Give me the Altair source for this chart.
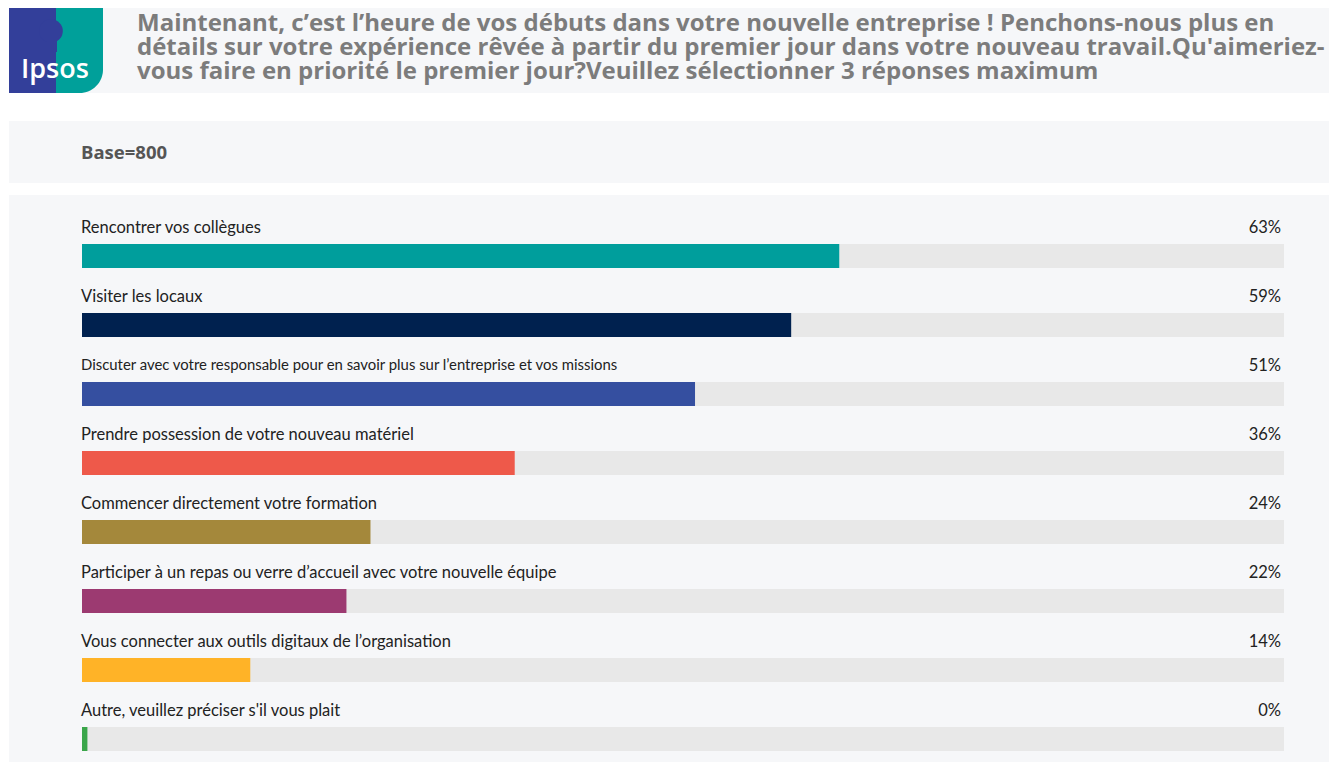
import altair as alt
import pandas as pd

categories = [
    "Rencontrer vos collègues",
    "Visiter les locaux",
    "Discuter avec votre responsable pour en savoir plus sur l’entreprise et vos missions",
    "Prendre possession de votre nouveau matériel",
    "Commencer directement votre formation",
    "Participer à un repas ou verre d’accueil avec votre nouvelle équipe",
    "Vous connecter aux outils digitaux de l’organisation",
    "Autre, veuillez préciser s'il vous plait",
]
values = [0.63, 0.59, 0.51, 0.36, 0.24, 0.22, 0.14, 0.00]
colors = ["#009e9c", "#00214f", "#354fa0", "#ee594a", "#a4883b", "#9c3a71", "#ffb327", "#3aa64a"]
title_lines = [
    "Maintenant, c’est l’heure de vos débuts dans votre nouvelle entreprise ! Penchons-nous plus en",
    "détails sur votre expérience rêvée à partir du premier jour dans votre nouveau travail.Qu'aimeriez-",
    "vous faire en priorité le premier jour?Veuillez sélectionner 3 réponses maximum",
]
base_text = "Base=800"

W, H = 1321, 754
PANEL = "#f6f7f9"

df = pd.DataFrame({"label": categories, "value": values, "color": colors})
df["pct"] = [f"{round(v*100)}%" for v in values]

xs = alt.Scale(domain=[0, 1], range=[74, 1276])
ys = alt.Scale(domain=categories, range=[236, 743], paddingInner=0.652, paddingOuter=0)

one = pd.DataFrame({"k": [0]})

def panel(y1, y2, x1=1, x2=W, color=PANEL):
    return alt.Chart(one).mark_rect(color=color).encode(
        x=alt.value(x1), x2=alt.value(x2), y=alt.value(y1), y2=alt.value(y2)
    )

header = panel(0, 85)
basep = panel(113, 175)
mainp = panel(187, H)
logo_blue = panel(0, 85, 1, 50, "#333f9a")
logo_teal = alt.Chart(one).mark_rect(color="#00a09a", cornerRadiusBottomRight=28).encode(
    x=alt.value(48), x2=alt.value(95), y=alt.value(0), y2=alt.value(85)
)
head = alt.Chart(one).mark_point(filled=True, color="#333f9a", opacity=1, size=560, shape="circle").encode(
    x=alt.value(43), y=alt.value(23)
)
neck = alt.Chart(one).mark_rect(color="#333f9a").encode(
    x=alt.value(39), x2=alt.value(49), y=alt.value(30), y2=alt.value(44)
)
logo_text = alt.Chart(one).mark_text(
    text="Ipsos", font="Open Sans", fontWeight=600, fontSize=27, color="white",
    align="left", baseline="alphabetic"
).encode(x=alt.value(13), y=alt.value(70))

title = alt.Chart(one).mark_text(
    text=title_lines, font="Open Sans", fontWeight="bold", fontSize=24, color="#7c7c7c",
    align="left", baseline="alphabetic", lineHeight=24
).encode(x=alt.value(129), y=alt.value(23))

base_lbl = alt.Chart(one).mark_text(
    text=base_text, font="Open Sans", fontWeight="bold", fontSize=18.5, color="#555555",
    align="left", baseline="middle"
).encode(x=alt.value(73), y=alt.value(145))

base = alt.Chart(df).transform_calculate(
    zero="0", full="1", disp="max(datum.value, 0.0045)"
)
Y = alt.Y("label:N", scale=ys, axis=None, sort=categories)
track = base.mark_bar(color="#e8e8e8").encode(
    y=Y,
    x=alt.X("zero:Q", scale=xs, axis=None),
    x2="full:Q",
)
bars = base.mark_bar().encode(
    y=Y,
    x=alt.X("zero:Q", scale=xs, axis=None),
    x2="disp:Q",
    color=alt.Color("color:N", scale=None),
)
labels = base.mark_text(align="left", baseline="middle", dy=-28, font="Lato", color="#222222").encode(
    y=Y,
    x=alt.value(73),
    text="label:N",
    size=alt.condition(alt.datum.label == categories[2], alt.value(14.9), alt.value(16.5)),
)
pcts = base.mark_text(align="right", baseline="middle", dy=-28, font="Lato", fontSize=16.5, color="#222222").encode(
    y=Y,
    x=alt.value(1273),
    text="pct:N",
)

chart = alt.layer(
    header, basep, mainp, logo_blue, logo_teal, head, neck, logo_text, title, base_lbl,
    track, bars, labels, pcts
).properties(
    width=W, height=H, padding=0, autosize=alt.AutoSizeParams(type="none"), background="white"
).configure_view(stroke=None)

chart.save("out.html", embed_options={"renderer": "svg", "actions": False})
